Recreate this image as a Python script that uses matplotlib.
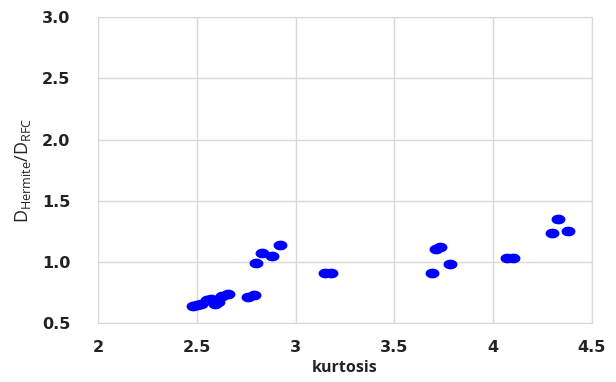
import numpy as np
import matplotlib
matplotlib.use("Agg")
import matplotlib.pyplot as plt
from matplotlib.path import Path

# values
kurtosis = [2.48, 2.50, 2.52, 2.55, 2.57, 2.59, 2.61, 2.63, 2.66, 2.76, 2.79,
            2.80, 2.83, 2.88, 2.92, 3.15, 3.18,
            3.69, 3.71, 3.73, 3.78,
            4.07, 4.10, 4.30, 4.33, 4.38]
ratio = [0.64, 0.65, 0.66, 0.69, 0.70, 0.66, 0.67, 0.72, 0.74, 0.71, 0.73,
         0.99, 1.07, 1.05, 1.14, 0.91, 0.91,
         0.91, 1.11, 1.12, 0.98,
         1.03, 1.03, 1.24, 1.35, 1.25]

x_ticks = [2, 2.5, 3, 3.5, 4, 4.5]
x_labels = ["2", "2.5", "3", "3.5", "4", "4.5"]
y_ticks = [0.5, 1.0, 1.5, 2.0, 2.5, 3.0]

# slightly flattened dot, like the stretched Excel markers
t = np.linspace(0, 2 * np.pi, 60)
ellipse = Path(np.column_stack([np.cos(t), 0.7 * np.sin(t)]), closed=True)

plt.rcParams["font.family"] = ["Open Sans", "DejaVu Sans"]

fig = plt.figure(figsize=(6.16, 3.82), dpi=100)
ax = fig.add_axes([0.159, 0.154, 0.802, 0.801])

ax.scatter(kurtosis, ratio, s=100, marker=ellipse, color="#0000ff",
           linewidths=0, zorder=3)

ax.set_xlim(2, 4.5)
ax.set_ylim(0.5, 3.0)
ax.set_xticks(x_ticks)
ax.set_xticklabels(x_labels)
ax.set_yticks(y_ticks)
ax.set_yticklabels([f"{v:.1f}" for v in y_ticks])

ax.grid(True, color="#d9d9d9", linewidth=1)
ax.set_axisbelow(True)
for side in ax.spines.values():
    side.set_color("#d9d9d9")
ax.tick_params(length=0, colors="#222222")
ax.tick_params(axis="y", pad=20)
ax.tick_params(axis="x", pad=12)
for lab in ax.get_xticklabels() + ax.get_yticklabels():
    lab.set_fontweight("bold")
    lab.set_fontfamily("DejaVu Sans")
    lab.set_fontsize(11.5)

ax.set_xlabel("kurtosis", fontsize=11.5, fontweight="bold", color="#222222",
              labelpad=4)
ax.set_ylabel(r"D$_{\mathregular{Hermite}}$/D$_{\mathregular{RFC}}$",
              fontsize=13, color="#222222", labelpad=6)

fig.savefig("out.png", dpi=100)
